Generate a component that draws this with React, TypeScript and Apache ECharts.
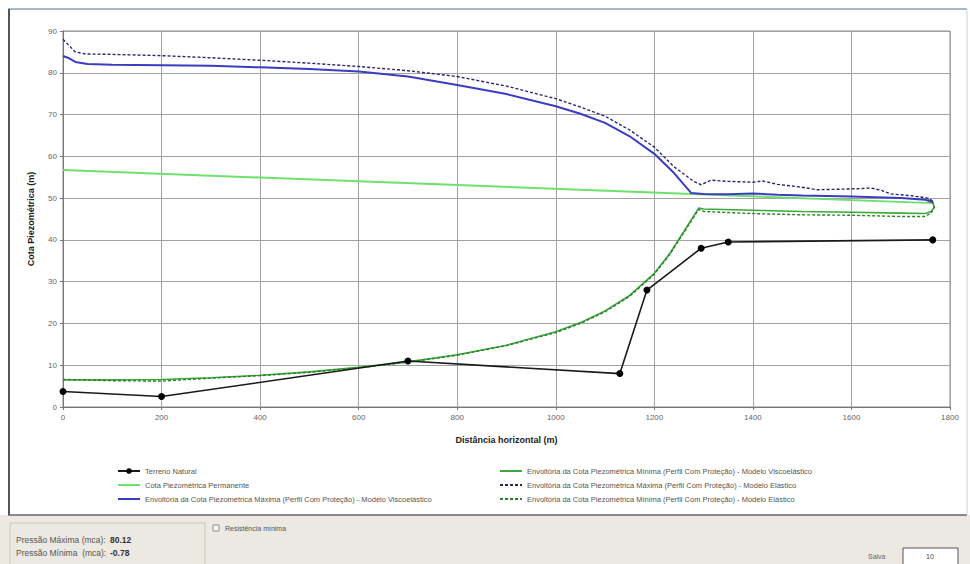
import React, { useEffect, useRef } from "react";
import * as echarts from "echarts";

const FONT = "Liberation Sans, Arial, sans-serif";

const xTicks = [0, 200, 400, 600, 800, 1000, 1200, 1400, 1600, 1800];
const yTicks = [0, 10, 20, 30, 40, 50, 60, 70, 80, 90];

const seriesNames = [
  "Terreno Natural",
  "Cota Piezométrica Permanente",
  "Envoltória da Cota Piezométrica Máxima (Perfil Com Proteção) - Modelo Viscoelástico",
  "Envoltória da Cota Piezométrica Mínima (Perfil Com Proteção) - Modelo Viscoelástico",
  "Envoltória da Cota Piezométrica Máxima (Perfil Com Proteção) - Modelo Elástico",
  "Envoltória da Cota Piezométrica Mínima (Perfil Com Proteção) - Modelo Elástico",
];

const terrenoX = [0, 200, 700, 1130, 1185, 1295, 1350, 1765];
const terrenoY = [3.7, 2.5, 11, 8, 28, 38, 39.5, 40];

const permX = [0, 1765];
const permY = [56.7, 48.8];

const maxViscoX = [0, 10, 25, 50, 100, 200, 300, 400, 500, 600, 700, 800, 900, 1000, 1050, 1100, 1150, 1200, 1240, 1275, 1300, 1350, 1400, 1450, 1500, 1550, 1600, 1650, 1700, 1750, 1765];
const maxViscoY = [84, 83.6, 82.6, 82.1, 81.9, 81.8, 81.7, 81.3, 80.9, 80.3, 79.1, 77.1, 74.9, 72.0, 70.2, 68.0, 64.8, 60.6, 56.0, 51.2, 51.0, 50.9, 51.1, 50.8, 50.6, 50.5, 50.4, 50.2, 50.0, 49.6, 49.0];

const maxElastX = [0, 10, 25, 45, 100, 200, 300, 400, 500, 600, 700, 800, 900, 1000, 1050, 1100, 1150, 1200, 1240, 1280, 1295, 1315, 1350, 1400, 1420, 1450, 1500, 1530, 1600, 1640, 1660, 1680, 1720, 1755, 1765];
const maxElastY = [88, 86.8, 85, 84.5, 84.4, 84.1, 83.6, 83.0, 82.3, 81.5, 80.5, 79.1, 76.8, 73.8, 71.8, 69.6, 66.3, 62.2, 57.5, 54.0, 53.2, 54.3, 54.0, 53.8, 54.1, 53.3, 52.6, 52.0, 52.2, 52.4, 51.9, 51.0, 50.6, 50.0, 49.3];

const minViscoX = [0, 100, 200, 300, 400, 500, 600, 700, 800, 900, 1000, 1050, 1100, 1150, 1200, 1230, 1260, 1290, 1300, 1400, 1500, 1600, 1700, 1750, 1762, 1768, 1765, 1755];
const minViscoY = [6.5, 6.5, 6.6, 7.0, 7.6, 8.4, 9.5, 10.8, 12.5, 14.8, 18.0, 20.2, 23.0, 26.7, 32.0, 36.5, 42.0, 47.6, 47.4, 47.1, 46.8, 46.6, 46.4, 46.3, 46.8, 47.8, 49.0, 49.6];

const minElastX = [0, 100, 200, 300, 400, 500, 600, 700, 800, 900, 1000, 1050, 1100, 1150, 1200, 1230, 1260, 1290, 1300, 1400, 1500, 1600, 1700, 1750, 1762, 1768, 1765, 1755];
const minElastY = [6.6, 6.3, 6.2, 6.9, 7.5, 8.3, 9.4, 10.7, 12.4, 14.7, 17.8, 20.0, 22.8, 26.5, 31.8, 36.3, 41.8, 47.3, 46.8, 46.3, 46.0, 45.9, 45.6, 45.6, 46.5, 47.8, 49.0, 49.6];

const pressaoMax = "80.12";
const pressaoMin = "-0.78";

const zip = (xs: number[], ys: number[]) => xs.map((x, i) => [x, ys[i]]);

export default function App() {
  const ref = useRef<HTMLDivElement>(null);
  useEffect(() => {
    document.body.style.margin = "0";
    if (!ref.current) return;
    const chart = echarts.init(ref.current, null, { renderer: "svg" });
    const lineBase = { type: "line", symbol: "none", showSymbol: false, z: 3 };
    const legendText = { fontSize: 7.5, color: "#555", fontFamily: FONT };
    const legendItem = (n: string) =>
      n === seriesNames[0] ? { name: n } : { name: n, itemStyle: { opacity: 0 } };
    chart.setOption({
      animation: false,
      backgroundColor: "#ffffff",
      textStyle: { fontFamily: FONT },
      grid: { left: 63, right: 20, top: 31, bottom: 157, show: true, borderColor: "#888", borderWidth: 1, backgroundColor: "#fff" },
      xAxis: {
        type: "value",
        min: xTicks[0],
        max: xTicks[xTicks.length - 1],
        interval: 200,
        name: "Distância horizontal (m)",
        nameLocation: "middle",
        nameGap: 28,
        nameTextStyle: { fontSize: 9, fontWeight: "bold", color: "#222", fontFamily: FONT },
        axisLine: { lineStyle: { color: "#777" } },
        axisTick: { show: true, length: 3, lineStyle: { color: "#777" } },
        axisLabel: { fontSize: 8, color: "#666", margin: 6, formatter: (v: number) => String(v) },
        splitLine: { show: true, lineStyle: { color: "#a2a2a2", width: 1 } },
      },
      yAxis: {
        type: "value",
        min: yTicks[0],
        max: yTicks[yTicks.length - 1],
        interval: 10,
        name: "Cota Piezométrica (m)",
        nameLocation: "middle",
        nameGap: 28,
        nameTextStyle: { fontSize: 9, fontWeight: "bold", color: "#222", fontFamily: FONT },
        axisLine: { show: true, lineStyle: { color: "#777" } },
        axisTick: { show: true, length: 3, lineStyle: { color: "#777" } },
        axisLabel: { fontSize: 8, color: "#666", margin: 6, formatter: (v: number) => String(v) },
        splitLine: { show: true, lineStyle: { color: "#a2a2a2", width: 1 } },
      },
      legend: [
        {
          orient: "vertical",
          left: 112,
          top: 462,
          itemGap: 6,
          itemWidth: 22,
          itemHeight: 7,
          selectedMode: false,
          textStyle: legendText,
          data: seriesNames.slice(0, 3).map(legendItem),
        },
        {
          orient: "vertical",
          left: 494,
          top: 462,
          itemGap: 6,
          itemWidth: 22,
          itemHeight: 7,
          selectedMode: false,
          textStyle: legendText,
          data: seriesNames.slice(3, 6).map(legendItem),
        },
      ],
      series: [
        {
          ...lineBase,
          name: seriesNames[1],
          data: zip(permX, permY),
          lineStyle: { color: "#6ee06e", width: 2 },
          itemStyle: { color: "#6ee06e" },
        },
        {
          ...lineBase,
          name: seriesNames[3],
          data: zip(minViscoX, minViscoY),
          lineStyle: { color: "#3aaa3a", width: 1.6 },
          itemStyle: { color: "#3aaa3a" },
        },
        {
          ...lineBase,
          name: seriesNames[5],
          data: zip(minElastX, minElastY),
          lineStyle: { color: "#2c7f2c", width: 1.4, type: [3, 2] },
          itemStyle: { color: "#2c7f2c" },
        },
        {
          ...lineBase,
          name: seriesNames[2],
          data: zip(maxViscoX, maxViscoY),
          lineStyle: { color: "#3c3cc2", width: 2 },
          itemStyle: { color: "#3c3cc2" },
        },
        {
          ...lineBase,
          name: seriesNames[4],
          data: zip(maxElastX, maxElastY),
          lineStyle: { color: "#262670", width: 1.4, type: [3, 2] },
          itemStyle: { color: "#262670" },
        },
        {
          type: "line",
          name: seriesNames[0],
          data: zip(terrenoX, terrenoY),
          symbol: "circle",
          symbolSize: 7,
          showSymbol: true,
          z: 4,
          lineStyle: { color: "#1a1a1a", width: 1.6 },
          itemStyle: { color: "#000" },
        },
      ],
      graphic: [
        { type: "rect", z: -10, silent: true, shape: { x: 0, y: 515, width: 970, height: 49 }, style: { fill: "#ebe9e2" } },
        { type: "line", z: 10, silent: true, shape: { x1: 8, y1: 9, x2: 967, y2: 9 }, style: { stroke: "#a9b7c9", lineWidth: 2 } },
        { type: "line", z: 10, silent: true, shape: { x1: 9, y1: 9, x2: 9, y2: 515 }, style: { stroke: "#555", lineWidth: 2 } },
        { type: "line", z: 10, silent: true, shape: { x1: 8, y1: 515, x2: 967, y2: 515 }, style: { stroke: "#666", lineWidth: 1.5 } },
        { type: "line", z: 10, silent: true, shape: { x1: 967, y1: 9, x2: 967, y2: 515 }, style: { stroke: "#d0d0d0", lineWidth: 1 } },
        { type: "rect", z: 10, silent: true, shape: { x: 10, y: 523, width: 195, height: 45 }, style: { fill: "none", stroke: "#c9c6bc", lineWidth: 1 } },
        { type: "text", z: 10, silent: true, style: { x: 16, y: 540, text: "Pressão Máxima (mca):", fontSize: 8.5, fill: "#555", fontFamily: FONT, verticalAlign: "middle" } },
        { type: "text", z: 10, silent: true, style: { x: 110, y: 540, text: pressaoMax, fontSize: 8.5, fontWeight: "bold", fill: "#333", fontFamily: FONT, verticalAlign: "middle" } },
        { type: "text", z: 10, silent: true, style: { x: 16, y: 553, text: "Pressão Mínima  (mca):", fontSize: 8.5, fill: "#555", fontFamily: FONT, verticalAlign: "middle" } },
        { type: "text", z: 10, silent: true, style: { x: 110, y: 553, text: pressaoMin, fontSize: 8.5, fontWeight: "bold", fill: "#333", fontFamily: FONT, verticalAlign: "middle" } },
        { type: "rect", z: 10, silent: true, shape: { x: 213, y: 525, width: 6, height: 6 }, style: { fill: "#fff", stroke: "#888", lineWidth: 1 } },
        { type: "text", z: 10, silent: true, style: { x: 225, y: 528, text: "Resistência mínima", fontSize: 7, fill: "#555", fontFamily: FONT, verticalAlign: "middle" } },
        { type: "text", z: 10, silent: true, style: { x: 868, y: 556, text: "Salva", fontSize: 7, fill: "#666", fontFamily: FONT, verticalAlign: "middle" } },
        { type: "rect", z: 10, silent: true, shape: { x: 903, y: 548, width: 55, height: 18 }, style: { fill: "#fff", stroke: "#555", lineWidth: 1 } },
        { type: "text", z: 10, silent: true, style: { x: 930, y: 556, text: "10", fontSize: 7, fill: "#444", fontFamily: FONT, align: "center", verticalAlign: "middle" } },
      ],
    });
    return () => chart.dispose();
  }, []);
  return <div ref={ref} style={{ width: 970, height: 564 }} />;
}
